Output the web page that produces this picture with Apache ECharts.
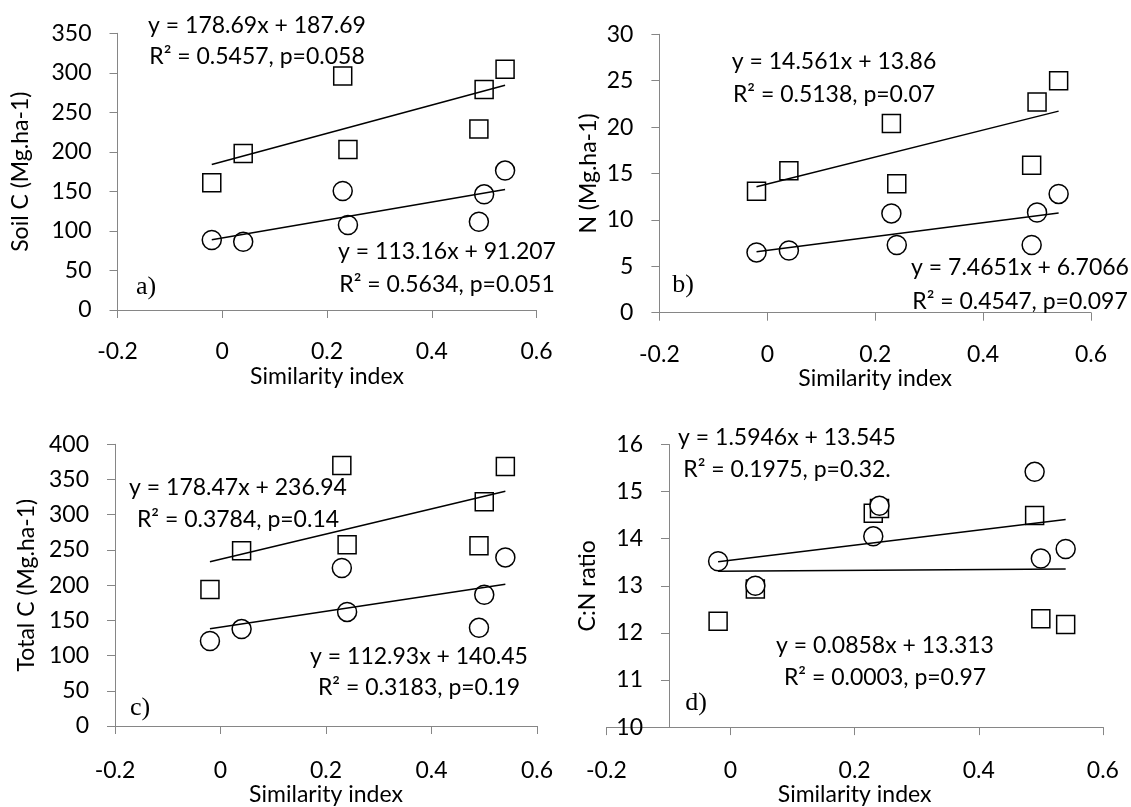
<!DOCTYPE html>
<html><head><meta charset="utf-8">
<script src="https://cdn.jsdelivr.net/npm/echarts@6/dist/echarts.min.js"></script>
<style>html,body{margin:0;padding:0;background:#fff}#c{width:1131px;height:807px}</style>
</head><body><div id="c"></div>
<script>
// ---- data ----
const xVals = [-0.02, 0.04, 0.23, 0.24, 0.49, 0.50, 0.54];
const xTicks = [-0.2, 0, 0.2, 0.4, 0.6];

const soilC_sq = [161, 198, 296, 203, 229, 279, 304.5];
const soilC_ci = [88.6, 86.4, 150.5, 107.5, 111.7, 146.3, 176.3];
const n_sq = [13.1, 15.3, 20.4, 13.9, 15.9, 22.7, 25.0];
const n_ci = [6.5, 6.7, 10.7, 7.3, 7.3, 10.8, 12.8];
const totC_sq = [194, 249, 370, 257.5, 256, 318.5, 368.5];
const totC_ci = [120.7, 137.6, 224.4, 162, 139.4, 186.4, 239.4];
const cn_sq = [12.25, 12.93, 14.54, 14.64, 14.49, 12.30, 12.18];
const cn_ci = [13.52, 13.0, 14.05, 14.70, 15.42, 13.58, 13.78];

// fits [slope, intercept]
const fitA_sq = [178.69, 187.69], fitA_ci = [113.16, 91.207];
const fitB_sq = [14.561, 13.86], fitB_ci = [7.4651, 6.7066];
const fitC_sq = [178.47, 236.94], fitC_ci = [112.93, 140.45];
const fitD_sq = [0.0858, 13.313], fitD_ci = [1.5946, 13.545];

const eqA = ['y = 178.69x + 187.69', 'R² = 0.5457, p=0.058', 'y = 113.16x + 91.207', 'R² = 0.5634, p=0.051'];
const eqB = ['y = 14.561x + 13.86', 'R² = 0.5138, p=0.07', 'y = 7.4651x + 6.7066', 'R² = 0.4547, p=0.097'];
const eqC = ['y = 178.47x + 236.94', 'R² = 0.3784, p=0.14', 'y = 112.93x + 140.45', 'R² = 0.3183, p=0.19'];
const eqD = ['y = 1.5946x + 13.545', 'R² = 0.1975, p=0.32.', 'y = 0.0858x + 13.313', 'R² = 0.0003, p=0.97'];

const yNames = ['Soil C (Mg.ha-1)', 'N (Mg.ha-1)', 'Total C (Mg.ha-1)', 'C:N ratio'];
const panelTags = ['a)', 'b)', 'c)', 'd)'];
const yMin = [0, 0, 0, 10], yMax = [350, 30, 400, 16], yStep = [50, 5, 50, 1];

// ---- layout (pixels) ----
const FONT = 'Lato';
const FS = 23;
const layout = [
  {grid:{left:117.5, top:33.3, width:419, height:276.7}, yOff:0, yGap:85, xLblM:30, xGap:55,
   eq:[[257,26],[257,57],[447,252],[447,285]], tag:[146,287]},
  {grid:{left:659.4, top:34.3, width:431.6, height:278.4}, yOff:0, yGap:59, xLblM:30, xGap:52,
   eq:[[834,62],[834,95],[1020,268],[1020,302]], tag:[683,285]},
  {grid:{left:115, top:444.3, width:422, height:284}, yOff:0, yGap:77, xLblM:33, xGap:57,
   eq:[[238,488],[238,520],[419,657],[419,688]], tag:[140,708]},
  {grid:{left:606.4, top:444.5, width:496.5, height:286.5}, yOff:-62.6, yGap:70, xLblM:32, xGap:54,
   eq:[[787,438],[787,470],[885,646],[885,678]], tag:[696,703]}
];

const sqData = [soilC_sq, n_sq, totC_sq, cn_sq];
const ciData = [soilC_ci, n_ci, totC_ci, cn_ci];
const sqFit = [fitA_sq, fitB_sq, fitC_sq, fitD_sq];
const ciFit = [fitA_ci, fitB_ci, fitC_ci, fitD_ci];
const eqs = [eqA, eqB, eqC, eqD];

const axisGray = '#868686';
const grids = [], xAxes = [], yAxes = [], series = [], graphics = [];
const xLo = Math.min(...xVals), xHi = Math.max(...xVals);

layout.forEach((L, i) => {
  grids.push(Object.assign({containLabel:false}, L.grid));
  xAxes.push({
    type:'value', gridIndex:i, min:xTicks[0], max:xTicks[xTicks.length-1], interval:0.2,
    axisLine:{show:true, onZero:false, lineStyle:{color:axisGray, width:1}},
    axisTick:{show:true, inside:false, length:8, lineStyle:{color:axisGray, width:1}},
    splitLine:{show:false},
    axisLabel:{color:'#000', fontFamily:FONT, fontSize:FS, margin:L.xLblM,
      formatter:v => String(Math.round(v*10)/10)},
    name:'Similarity index', nameLocation:'middle', nameGap:L.xGap,
    nameTextStyle:{color:'#000', fontFamily:FONT, fontSize:FS}
  });
  yAxes.push({
    type:'value', gridIndex:i, min:yMin[i], max:yMax[i], interval:yStep[i], offset:L.yOff,
    axisLine:{show:true, onZero:false, lineStyle:{color:axisGray, width:1}},
    axisTick:{show:true, inside:false, length:8, lineStyle:{color:axisGray, width:1}},
    splitLine:{show:false},
    axisLabel:{color:'#000', fontFamily:FONT, fontSize:FS, margin:26},
    name:yNames[i], nameLocation:'middle', nameGap:L.yGap, nameRotate:90,
    nameTextStyle:{color:'#000', fontFamily:FONT, fontSize:FS}
  });
  const mk = (arr) => xVals.map((x, k) => [x, arr[k]]);
  series.push({type:'scatter', xAxisIndex:i, yAxisIndex:i, data:mk(sqData[i]),
    symbol:'rect', symbolSize:18, z:2,
    itemStyle:{color:'#fff', borderColor:'#000', borderWidth:1.5, opacity:1}});
  series.push({type:'scatter', xAxisIndex:i, yAxisIndex:i, data:mk(ciData[i]),
    symbol:'circle', symbolSize:19, z:3,
    itemStyle:{color:'#fff', borderColor:'#000', borderWidth:1.5, opacity:1}});
  [sqFit[i], ciFit[i]].forEach(f => {
    series.push({type:'line', xAxisIndex:i, yAxisIndex:i, z:4, symbol:'none', silent:true,
      data:[[xLo, f[0]*xLo + f[1]], [xHi, f[0]*xHi + f[1]]],
      lineStyle:{color:'#000', width:1.5}});
  });
  eqs[i].forEach((t, k) => {
    graphics.push({type:'text', x:L.eq[k][0], y:L.eq[k][1], z:10,
      style:{text:t, font:FS + 'px ' + FONT, fill:'#000', align:'center', verticalAlign:'middle'}});
  });
  graphics.push({type:'text', x:L.tag[0], y:L.tag[1], z:10,
    style:{text:panelTags[i], font:'26px "Liberation Serif"', fill:'#000', align:'center', verticalAlign:'middle'}});
});

const chart = echarts.init(document.getElementById('c'), null, {renderer:'canvas'});
chart.setOption({
  animation:false, backgroundColor:'#fff',
  grid:grids, xAxis:xAxes, yAxis:yAxes, series:series, graphic:graphics
});
</script>
</body></html>
